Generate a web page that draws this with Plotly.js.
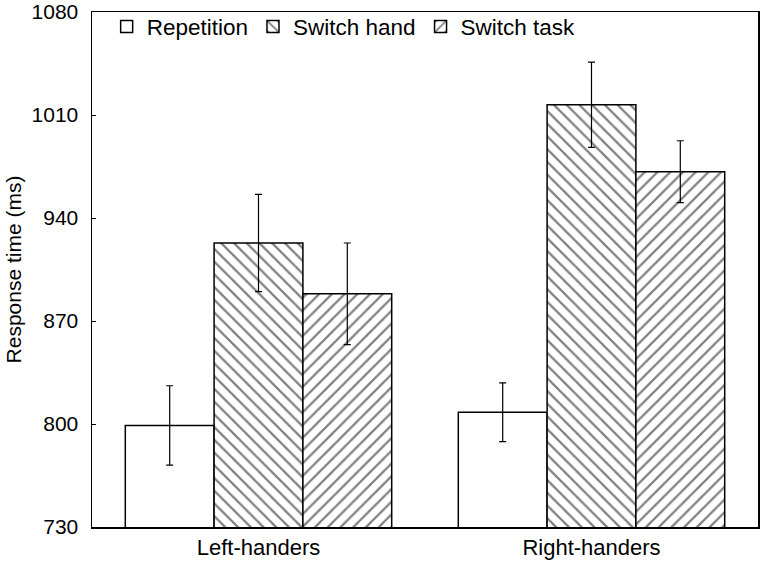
<!DOCTYPE html>
<html>
<head>
<meta charset="utf-8">
<script src="https://cdn.plot.ly/plotly-3.0.1.min.js"></script>
<style>html,body{margin:0;padding:0;background:#fff;}#chart{width:760px;height:561px;}</style>
</head>
<body>
<div id="chart"></div>
<script>
const groups = ["Left-handers", "Right-handers"];
const seriesNames = ["Repetition", "Switch hand", "Switch task"];
const repetition = [799, 808];
const repetitionErr = [27, 20];
const switchHand = [923, 1017];
const switchHandErr = [33, 29];
const switchTask = [888.5, 971.5];
const switchTaskErr = [34.5, 21];
const yTicks = [730, 800, 870, 940, 1010, 1080];

const font = "Liberation Sans, Arial, sans-serif";
function bar(name, y, err, shape) {
  const marker = {color: "#ffffff", line: {color: "#000000", width: 1.5}};
  if (shape) marker.pattern = {shape: shape, fgcolor: "#000000", bgcolor: "#ffffff", size: 9, solidity: 0.25, fillmode: "overlay"};
  return {
    type: "bar", name: name, x: groups, y: y,
    error_y: {type: "data", array: err, visible: true, color: "#000000", thickness: 1.2, width: 3.5},
    marker: marker
  };
}
const data = [
  bar(seriesNames[0], repetition, repetitionErr, ""),
  bar(seriesNames[1], switchHand, switchHandErr, "\\"),
  bar(seriesNames[2], switchTask, switchTaskErr, "/")
];
const layout = {
  width: 760, height: 561,
  margin: {l: 92, r: 2, t: 12, b: 34},
  paper_bgcolor: "#ffffff", plot_bgcolor: "#ffffff",
  font: {family: font, color: "#000000", size: 21},
  barmode: "group", bargap: 0.2, bargroupgap: 0,
  showlegend: true,
  legend: {orientation: "h", x: 0.022, y: 1.013, xanchor: "left", yanchor: "top",
           font: {family: font, size: 22.5, color: "#000000"}, bgcolor: "rgba(0,0,0,0)", itemwidth: 30,
           traceorder: "normal"},
  xaxis: {
    showline: true, linecolor: "#000000", linewidth: 1.5, mirror: true,
    ticks: "", showgrid: false, zeroline: false,
    tickfont: {family: font, size: 22}
  },
  yaxis: {
    range: [730, 1080], tickvals: yTicks, ticktext: yTicks.map(String),
    showline: true, linecolor: "#000000", linewidth: 1.5, mirror: true,
    ticks: "inside", ticklen: 4, tickcolor: "#000000", showgrid: false, zeroline: false,
    ticklabelstandoff: 8, ticklabeloverflow: "allow",
    tickfont: {family: font, size: 21},
    title: {text: "Response time (ms)", font: {family: font, size: 21}, standoff: 4}
  }
};
Plotly.newPlot("chart", data, layout, {displayModeBar: false, staticPlot: true});
</script>
</body>
</html>
